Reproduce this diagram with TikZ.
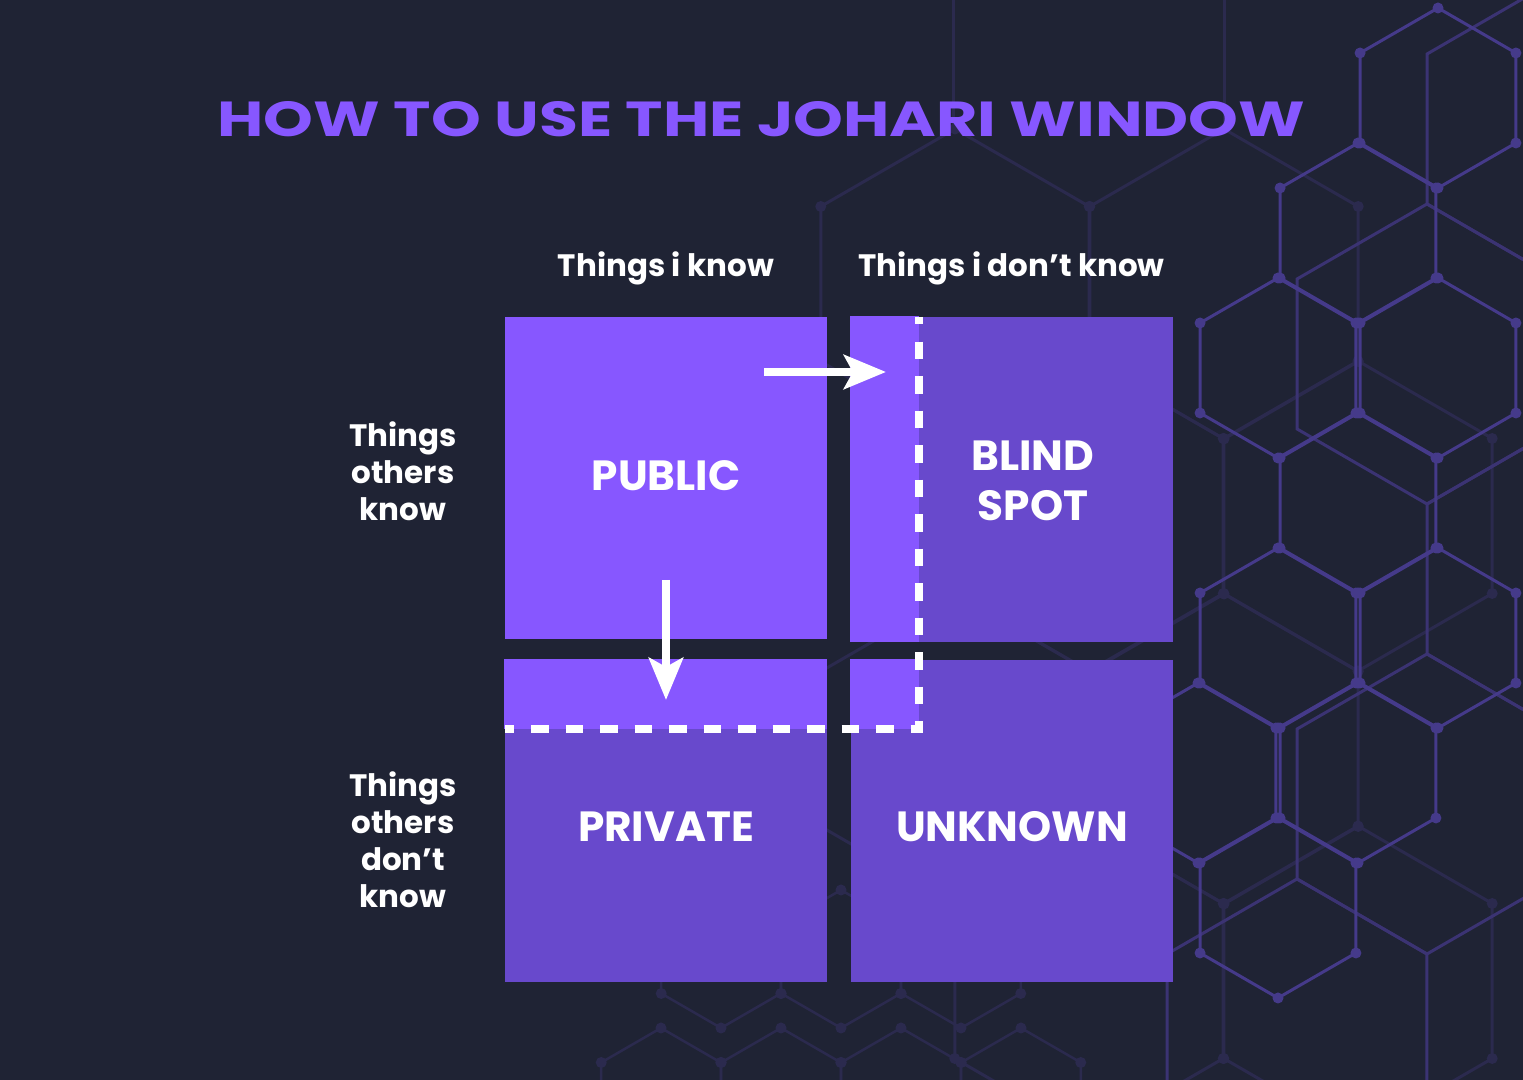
\documentclass[tikz,border=0pt]{standalone}
\usepackage{fontspec}
\setmainfont{Poppins}
\newfontfamily\titlefont{Poppins}
\usepackage{tikz}
\usetikzlibrary{arrows.meta, positioning}
\definecolor{mybg}{HTML}{1F2334}
\definecolor{mylight}{HTML}{8757FF}
\definecolor{mydark}{HTML}{6849CC}
\definecolor{myhexA}{HTML}{453A8A}
\definecolor{myhexB}{HTML}{3B3373}
\definecolor{myhexC}{HTML}{2B2A4E}

% pointy-top hexagon: centre x, centre y, radius, style
\newcommand{\hexcell}[4]{%
  \draw[#4] (#1,#2) +(90:#3) -- +(30:#3) -- +(-30:#3) -- +(-90:#3) -- +(-150:#3) -- +(150:#3) -- cycle;}
\newcommand{\hexdots}[4]{%
  \foreach \a in {90,30,-30,-90,-150,150} \fill[#4] (#1,#2) ++(\a:#3) circle[radius=0.055cm];}

\begin{document}
\begin{tikzpicture}[x=0.01cm, y=-0.01cm,
    box/.style={rectangle, fill=mydark, draw=none, inner sep=0pt, minimum width=3.22cm, minimum height=3.22cm},
    quad/.style={text=white, font=\fontsize{12pt}{14.2pt}\selectfont\bfseries, align=center},
    head/.style={text=white, font=\fontsize{8.8pt}{10.5pt}\selectfont\bfseries, align=center},
    dashline/.style={white, line width=0.088cm, dash pattern=on 0.175cm off 0.17cm},
    arr/.style={white, line width=0.085cm, -{Stealth[length=0.42cm, width=0.34cm, inset=0.09cm]}}]
    % Hintergrund
    \useasboundingbox (0,0) rectangle (1523,1080);
    \fill[mybg] (0,0) rectangle (1523,1080);

    % Waben
    \begin{scope}
        \clip (0,0) rectangle (1523,1080);
        % schwache Waben
        \foreach \x/\y in {955/284, 1224/284, 1089/516, 1358/516, 955/749, 1224/749, 1089/981, 1358/981} {
            \hexcell{\x}{\y}{155}{myhexC, line width=0.03cm}
            \hexdots{\x}{\y}{155}{myhexC}
        }
        \draw[myhexC, line width=0.03cm] (953,0) -- (953,129) (1224,0) -- (1224,129);
        \foreach \x/\y in {721/959, 841/959, 961/959, 661/1097, 781/1097, 901/1097, 1021/1097} {
            \hexcell{\x}{\y}{69}{myhexC, line width=0.025cm}
            \hexdots{\x}{\y}{69}{myhexC}
        }
        % mittlere Waben
        \foreach \x/\y in {1557/129, 1427/354, 1557/579, 1427/804, 1297/1029} {
            \hexcell{\x}{\y}{150}{myhexB, line width=0.03cm}
        }
        % kleine Waben
        \foreach \x/\y in {1438/98, 1358/233, 1278/368, 1438/368, 1358/503, 1278/638, 1438/638, 1198/773, 1358/773, 1278/908} {
            \hexcell{\x}{\y}{90}{myhexA, line width=0.03cm}
            \hexdots{\x}{\y}{90}{myhexA}
        }
    \end{scope}

    % Titel
    \node[text=mylight, inner sep=0pt] (title) at (761.5,119.5)
        {\resizebox{10.87cm}{0.35cm}{\titlefont\bfseries HOW TO USE THE JOHARI WINDOW}};

    % Felder
    \node[box, fill=mylight] (pub) at (666,478) {};
    \node[box, minimum height=3.25cm] (blind) at (1012,479.5) {};
    \node[box] (priv) at (666,821) {};
    \node[box] (unk) at (1012,821) {};
    \fill[mylight] (blind.north west) rectangle (919,642);
    \fill[mylight] (priv.north west) rectangle (827,729);
    \fill[mylight] (unk.north west) rectangle (919,729);

    % gestrichelte Grenze
    \draw[dashline, dash phase=0.1cm] (919,317) -- (919,733);
    \draw[dashline, dash phase=0.085cm] (505,729) -- (923,729);

    % Spaltenköpfe
    \node[head, anchor=base] (hdKnow) at (666,277) {Things i know};
    \node[head, anchor=base] (hdNotKnow) at (1011.5,277) {Things i don’t know};

    % Zeilenköpfe
    \node[head] (rowKnow) at (403,471) {Things\\others\\know};
    \node[head] (rowNotKnow) at (403,840) {Things\\others\\don’t\\know};

    % Beschriftung
    \node[quad] (pubLbl) at (666,476) {PUBLIC};
    \node[quad] (blindLbl) at (1033,481) {BLIND\\SPOT};
    \node[quad] (privLbl) at (666,827) {PRIVATE};
    \node[quad] (unkLbl) at (1012,827) {UNKNOWN};

    % Pfeile
    \coordinate (pubE) at (764,372);
    \coordinate (blindW) at (886,372);
    \coordinate (pubS) at (666,580);
    \coordinate (privN) at (666,700);
    \draw[arr] (pubE) -- (blindW);
    \draw[arr] (pubS) -- (privN);
\end{tikzpicture}
\end{document}
